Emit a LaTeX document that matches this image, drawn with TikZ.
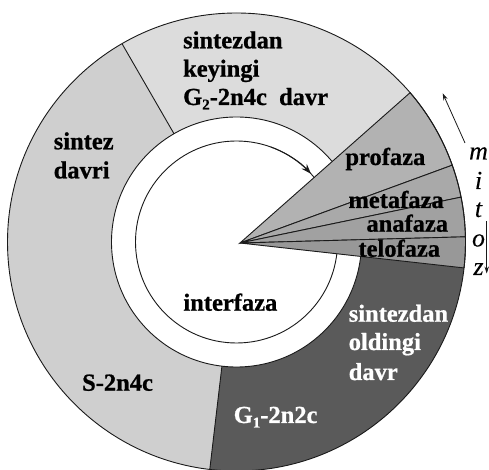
\documentclass[tikz,border=0pt]{standalone}
\usepackage{fontspec}
\setmainfont{Liberation Serif}
\newfontfamily\hvyfont[FakeBold=0.8]{Liberation Serif Bold}
\newfontfamily\itfont[FakeBold=0.2]{Liberation Serif Italic}
\usetikzlibrary{calc,arrows.meta}
\definecolor{sgray}{HTML}{CFCFCF}
\definecolor{ggray}{HTML}{DCDCDC}
\definecolor{gone}{HTML}{5A5A5A}
\definecolor{pro}{HTML}{B2B2B2}
\definecolor{meta}{HTML}{A9A9A9}
\definecolor{ana}{HTML}{A1A1A1}
\definecolor{telo}{HTML}{989898}
\definecolor{ink}{HTML}{1A1A1A}
\newcommand{\sbs}[1]{\raisebox{-4.5pt}{\fontsize{15}{15}\selectfont #1}}
\begin{document}
\begin{tikzpicture}[x=1pt,y=1pt,line width=0.9pt,
  lbl/.style={anchor=base west,inner sep=0pt,font=\hvyfont\fontsize{24.5}{28}\selectfont},
  wlbl/.style={lbl,text=white},
  ilbl/.style={anchor=base,inner sep=0pt,font=\itfont\fontsize{26}{28}\selectfont},
  edge/.style={draw=ink},
  thinarrow/.style={draw=ink,line width=0.8pt,-{Stealth[length=7pt,width=4.5pt]}}]
\useasboundingbox (0,0) rectangle (489,470);
\coordinate (C) at (236.5,228);
\coordinate (P) at (240,227);
% background sectors
\fill[sgray] (C) circle[radius=229];
\fill[ggray] (C) -- ($(C)+(30:229)$) arc[start angle=30,end angle=120,radius=229] -- cycle;
\fill[gone] (C) -- ($(C)+(-96.7:229)$) arc[start angle=-96.7,end angle=0,radius=229] -- cycle;
% white ring and inner circle
\draw[edge,fill=white] (C) circle[radius=125];
\draw[edge] (C) circle[radius=101];
% radial dividers
\coordinate (d1a) at ($(C)+(120:125)$);
\coordinate (d1b) at ($(C)+(120:229)$);
\coordinate (d2a) at ($(C)+(-96.7:125)$);
\coordinate (d2b) at ($(C)+(-96.7:229)$);
\draw[edge] (d1a) -- (d1b);
\draw[edge] (d2a) -- (d2b);
% mitosis wedges
\coordinate (a1) at ($(C)+(40.7:229)$);
\coordinate (a2) at ($(C)+(19.6:229)$);
\coordinate (a3) at ($(C)+(11.3:229)$);
\coordinate (a4) at ($(C)+(1.3:229)$);
\coordinate (a5) at ($(C)+(-6.5:229)$);
\draw[edge,fill=pro] (P) -- (a1) arc[start angle=40.7,end angle=19.6,radius=229] -- cycle;
\draw[edge,fill=meta] (P) -- (a2) arc[start angle=19.6,end angle=11.3,radius=229] -- cycle;
\draw[edge,fill=ana] (P) -- (a3) arc[start angle=11.3,end angle=1.3,radius=229] -- cycle;
\draw[edge,fill=telo] (P) -- (a4) arc[start angle=1.3,end angle=-6.5,radius=229] -- cycle;
% outer circle
\draw[edge] (C) circle[radius=229];
% arrow on inner circle
\coordinate (ia) at ($(C)+(70:101)$);
\draw[draw=ink,line width=0.9pt,-{Stealth[length=10pt,width=7pt]}] (ia) arc[start angle=70,end angle=42.5,radius=101];
% mitoz arrows
\coordinate (u1) at (465,327);
\coordinate (u2) at (442.7,376.7);
\coordinate (v1) at (486.7,248.5);
\coordinate (v2) at (486.7,196.5);
\draw[thinarrow] (u1) -- (u2);
\draw[thinarrow] (v1) -- (v2);
% labels
\node[lbl] (g2a) at (182.7,421.7) {sintezdan};
\node[lbl] (g2b) at (182.7,393.3) {keyingi};
\node[lbl] (g2c) at (182.7,365) {G\sbs{2}-2n4c\ \ davr};
\node[lbl] (sa) at (53.3,320.7) {sintez};
\node[lbl] (sb) at (53.3,291.7) {davri};
\node[lbl] (sc) at (81.7,79.3) {S-2n4c};
\node[lbl] (inter) at (183,159.3) {interfaza};
\node[wlbl] (g1a) at (348.3,148.3) {sintezdan};
\node[wlbl] (g1b) at (348.3,120) {oldingi};
\node[wlbl] (g1c) at (348.3,90) {davr};
\node[wlbl] (g1d) at (233.3,47) {G\sbs{1}-2n2c};
\node[lbl] (ph1) at (345,305) {profaza};
\node[lbl] (ph2) at (348,262) {metafaza};
\node[lbl] (ph3) at (366,238.3) {anafaza};
\node[lbl] (ph4) at (358,213.3) {telofaza};
\node[ilbl] (m1) at (478.5,310.5) {m};
\node[ilbl] (m2) at (478.5,281) {i};
\node[ilbl] (m3) at (478.5,253) {t};
\node[ilbl] (m4) at (478.5,223.5) {o};
\node[ilbl] (m5) at (478.5,195) {z};
\end{tikzpicture}
\end{document}
